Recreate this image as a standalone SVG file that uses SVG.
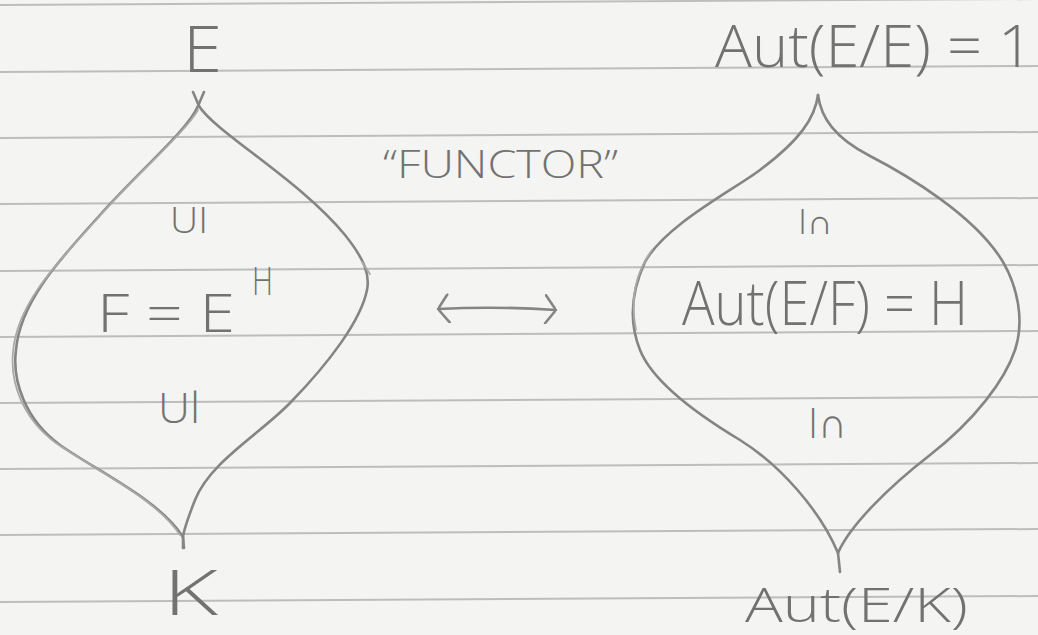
<svg xmlns="http://www.w3.org/2000/svg" width="1038" height="635" viewBox="0 0 1038 635">
  <defs>
    <style>
      .rule { stroke: #bdbdbb; stroke-width: 2; fill: none; }
      .pencil { stroke: #858585; stroke-width: 2.6; fill: none; stroke-linecap: round; stroke-linejoin: round; }
      .pencil2 { stroke: #a9a9a9; stroke-width: 1.8; fill: none; stroke-linecap: round; }
      .hand { font-family: "Open Sans", "Liberation Sans", sans-serif; font-weight: 300; fill: #727272; }
    </style>
    <marker id="chev" viewBox="0 0 12 30" refX="12" refY="15" markerWidth="12" markerHeight="30" markerUnits="userSpaceOnUse" orient="auto-start-reverse">
      <path d="M1,1 L12,15 L2,29" class="pencil" stroke-width="2.6"/>
    </marker>
  </defs>
  <rect x="0" y="0" width="1038" height="635" fill="#f4f4f2"/>

  <g id="paper">
    <line class="rule" x1="0" y1="5" x2="1038" y2="-1"/>
    <line class="rule" x1="0" y1="72" x2="1038" y2="66"/>
    <line class="rule" x1="0" y1="138" x2="1038" y2="132"/>
    <line class="rule" x1="0" y1="204" x2="1038" y2="198"/>
    <line class="rule" x1="0" y1="271" x2="1038" y2="265"/>
    <line class="rule" x1="0" y1="337" x2="1038" y2="331"/>
    <line class="rule" x1="0" y1="403" x2="1038" y2="397"/>
    <line class="rule" x1="0" y1="469" x2="1038" y2="463"/>
    <line class="rule" x1="0" y1="535" x2="1038" y2="529"/>
    <line class="rule" x1="0" y1="602" x2="1038" y2="596"/>
  </g>

  <g id="node-E">
    <text class="hand" x="183" y="72" font-size="64" textLength="39" lengthAdjust="spacingAndGlyphs">E</text>
  </g>

  <g id="left-lattice">
    <path class="pencil" d="M193,92 L199,106 C215,132 300,180 345,235 C365,260 370,275 367,290 C361,320 330,362 290,403 C260,434 210,462 195,500 C190,513 184,528 183,537 L183,548"/>
    <path class="pencil" d="M204,92 L198,106 C188,130 140,170 100,215 C64,255 20,300 16,350 C12,380 25,420 60,445 C95,470 160,500 183,537 L184,548"/>
    <path class="pencil2" d="M198,110 C184,134 136,174 97,219 C61,259 17,302 13,352 C10,382 22,418 56,443 C92,468 156,498 180,535"/>
    <path class="pencil2" d="M362,262 L370,274"/>
    <text class="hand" x="170" y="233" font-size="36" textLength="38" lengthAdjust="spacingAndGlyphs">UI</text>
    <text class="hand" x="97" y="332" font-size="54" textLength="138" lengthAdjust="spacingAndGlyphs">F = E</text>
    <text class="hand" x="252" y="295" font-size="38" textLength="21" lengthAdjust="spacingAndGlyphs">H</text>
    <text class="hand" x="158" y="423" font-size="43" textLength="42" lengthAdjust="spacingAndGlyphs">Ul</text>
  </g>

  <g id="node-K">
    <text class="hand" x="163" y="615" font-size="62" textLength="55" lengthAdjust="spacingAndGlyphs">K</text>
  </g>

  <g id="label-functor">
    <text class="hand" x="383" y="178" font-size="38" textLength="235" lengthAdjust="spacingAndGlyphs">“FUNCTOR”</text>
  </g>

  <g id="node-aut-EE">
    <text class="hand" x="715" y="67" font-size="58" textLength="318" lengthAdjust="spacingAndGlyphs">Aut(E/E) = 1</text>
  </g>

  <g id="right-lattice">
    <path class="pencil" d="M818,95 C821,118 835,138 870,156 C905,174 975,215 1003,262 C1017,286 1025,320 1015,350 C1005,380 975,420 930,455 C890,486 850,525 838,553 L840,572"/>
    <path class="pencil" d="M818,95 C815,118 800,140 760,170 C735,189 665,225 645,262 C632,290 628,320 640,350 C652,380 690,410 740,440 C780,465 820,510 838,553"/>
    <path class="pencil2" d="M652,250 C636,272 630,300 636,330"/>
    <text class="hand" x="798" y="234" font-size="34" textLength="35" lengthAdjust="spacingAndGlyphs">I∩</text>
    <text class="hand" x="682" y="325" font-size="60" textLength="286" lengthAdjust="spacingAndGlyphs">Aut(E/F) = H</text>
    <text class="hand" x="808" y="438" font-size="43" textLength="39" lengthAdjust="spacingAndGlyphs">I∩</text>
  </g>

  <g id="node-aut-EK">
    <text class="hand" x="745" y="622" font-size="48" textLength="223" lengthAdjust="spacingAndGlyphs">Aut(E/K)</text>
  </g>

  <g id="connectors">
    <path class="pencil" d="M438,309 Q497,306 556,310" marker-start="url(#chev)" marker-end="url(#chev)"/>
  </g>
</svg>
